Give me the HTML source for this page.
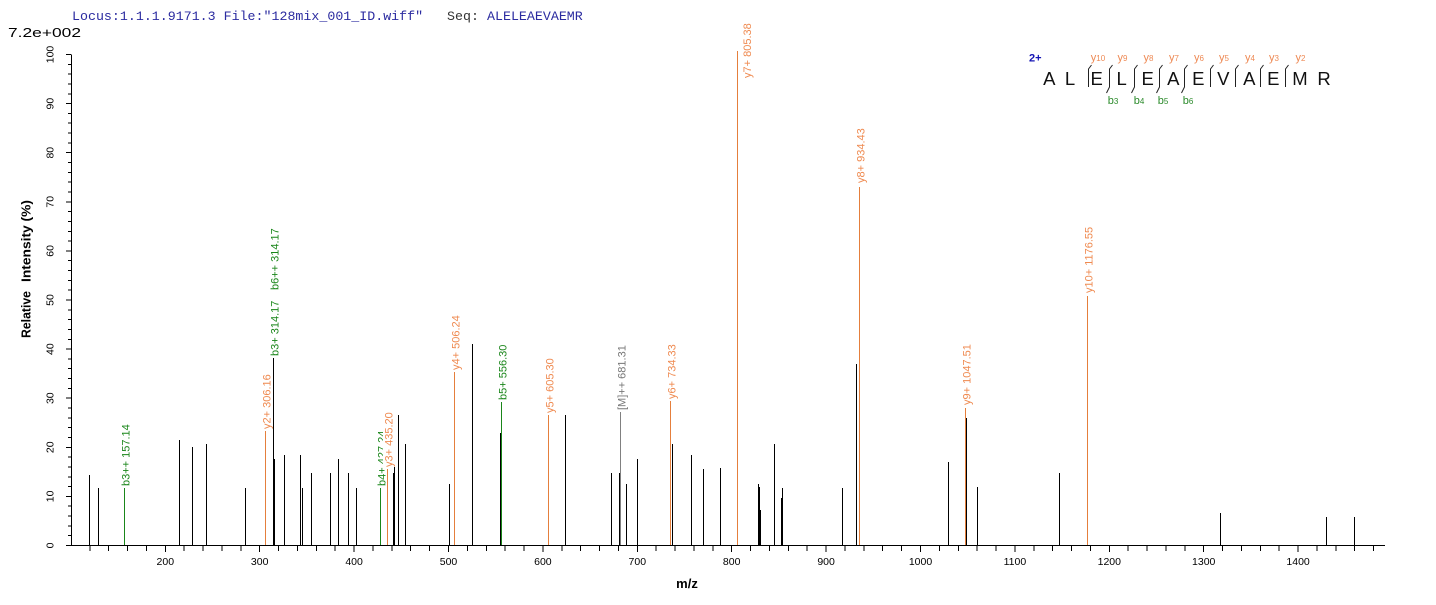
<!DOCTYPE html>
<html><head><meta charset="utf-8"><style>
html,body{margin:0;padding:0;background:#fff;}
svg{display:block;}
text{font-family:"Liberation Sans",Arial,sans-serif;}
</style></head><body>
<svg width="1436" height="605" viewBox="0 0 1436 605" xmlns="http://www.w3.org/2000/svg">
<rect width="1436" height="605" fill="#fff"/>
<!-- header -->
<g font-size="13.3">
<text x="72" y="20" fill="#2b2ba0" style="font-family:'Liberation Mono',monospace">Locus:1.1.1.9171.3 File:"128mix_001_ID.wiff"</text>
<text x="447" y="20" fill="#333" style="font-family:'Liberation Mono',monospace">Seq:</text>
<text x="487" y="20" fill="#2b2ba0" style="font-family:'Liberation Mono',monospace">ALELEAEVAEMR</text>
</g>
<text x="8" y="37" font-size="12.5" fill="#000" textLength="73" lengthAdjust="spacingAndGlyphs">7.2e+002</text>

<!-- axes -->
<g stroke="#000" stroke-width="1" shape-rendering="crispEdges" fill="none">
<path d="M71.5 54.5 V545.5 M71 545.5 H1385"/>
<path d="M71 545.5h-5 M71 496.4h-5 M71 447.3h-5 M71 398.2h-5 M71 349.1h-5 M71 300h-5 M71 250.9h-5 M71 201.8h-5 M71 152.7h-5 M71 103.6h-5 M71 54.5h-5"/>
<path d="M71 535.7h-3 M71 525.9h-3 M71 516h-3 M71 506.2h-3 M71 486.6h-3 M71 476.8h-3 M71 466.9h-3 M71 457.1h-3 M71 437.5h-3 M71 427.7h-3 M71 417.8h-3 M71 408h-3 M71 388.4h-3 M71 378.6h-3 M71 368.7h-3 M71 358.9h-3 M71 339.3h-3 M71 329.5h-3 M71 319.6h-3 M71 309.8h-3 M71 290.2h-3 M71 280.4h-3 M71 270.5h-3 M71 260.7h-3 M71 241.1h-3 M71 231.3h-3 M71 221.4h-3 M71 211.6h-3 M71 192h-3 M71 182.2h-3 M71 172.3h-3 M71 162.5h-3 M71 142.9h-3 M71 133.1h-3 M71 123.2h-3 M71 113.4h-3 M71 93.8h-3 M71 84h-3 M71 74.1h-3 M71 64.3h-3"/>
<path d="M89.8 546v5 M108.7 546v5 M127.5 546v5 M146.4 546v5 M165.3 546v6 M184.2 546v5 M203.1 546v5 M221.9 546v5 M240.8 546v5 M259.7 546v6 M278.6 546v5 M297.5 546v5 M316.3 546v5 M335.2 546v5 M354.1 546v6 M373 546v5 M391.9 546v5 M410.7 546v5 M429.6 546v5 M448.5 546v6 M467.4 546v5 M486.3 546v5 M505.1 546v5 M524 546v5 M542.9 546v6 M561.8 546v5 M580.7 546v5 M599.5 546v5 M618.4 546v5 M637.3 546v6 M656.2 546v5 M675.1 546v5 M693.9 546v5 M712.8 546v5 M731.7 546v6 M750.6 546v5 M769.5 546v5 M788.3 546v5 M807.2 546v5 M826.1 546v6 M845 546v5 M863.9 546v5 M882.7 546v5 M901.6 546v5 M920.5 546v6 M939.4 546v5 M958.3 546v5 M977.1 546v5 M996 546v5 M1014.9 546v6 M1033.8 546v5 M1052.7 546v5 M1071.5 546v5 M1090.4 546v5 M1109.3 546v6 M1128.2 546v5 M1147.1 546v5 M1165.9 546v5 M1184.8 546v5 M1203.7 546v6 M1222.6 546v5 M1241.5 546v5 M1260.3 546v5 M1279.2 546v5 M1298.1 546v6 M1317 546v5 M1335.9 546v5 M1354.7 546v5 M1373.6 546v5"/>
</g>

<!-- y tick labels -->
<g font-size="10.5" fill="#000" text-anchor="middle">
<text transform="translate(53.5,545.5) rotate(-90)">0</text>
<text transform="translate(53.5,496.4) rotate(-90)">10</text>
<text transform="translate(53.5,447.3) rotate(-90)">20</text>
<text transform="translate(53.5,398.2) rotate(-90)">30</text>
<text transform="translate(53.5,349.1) rotate(-90)">40</text>
<text transform="translate(53.5,300) rotate(-90)">50</text>
<text transform="translate(53.5,250.9) rotate(-90)">60</text>
<text transform="translate(53.5,201.8) rotate(-90)">70</text>
<text transform="translate(53.5,152.7) rotate(-90)">80</text>
<text transform="translate(53.5,103.6) rotate(-90)">90</text>
<text transform="translate(53.5,54.5) rotate(-90)">100</text>
</g>
<!-- x tick labels -->
<g font-size="10.5" fill="#000" text-anchor="middle">
<text x="165.3" y="565">200</text>
<text x="259.7" y="565">300</text>
<text x="354.1" y="565">400</text>
<text x="448.5" y="565">500</text>
<text x="542.9" y="565">600</text>
<text x="637.3" y="565">700</text>
<text x="731.7" y="565">800</text>
<text x="826.1" y="565">900</text>
<text x="920.5" y="565">1000</text>
<text x="1014.9" y="565">1100</text>
<text x="1109.3" y="565">1200</text>
<text x="1203.7" y="565">1300</text>
<text x="1298.1" y="565">1400</text>
</g>
<!-- axis titles -->
<g font-size="13" font-weight="bold" fill="#000">
<text transform="translate(30.5,338) rotate(-90)" textLength="47" lengthAdjust="spacingAndGlyphs">Relative</text>
<text transform="translate(30.5,282) rotate(-90)" textLength="82" lengthAdjust="spacingAndGlyphs">Intensity (%)</text>
<text x="687" y="588" text-anchor="middle">m/z</text>
</g>

<!-- peaks -->
<g stroke-width="1" shape-rendering="crispEdges" fill="none">
<path stroke="#000" d="M89.5 545V475 M98.5 545V488 M179.5 545V440 M192.5 545V447 M206.5 545V444 M245.5 545V488 M273.5 545V358 M274.5 545V459 M284.5 545V455 M300.5 545V455 M302.5 545V488 M311.5 545V473 M330.5 545V473 M338.5 545V459 M348.5 545V473 M356.5 545V488 M393.5 545V473 M394.5 545V467 M398.5 545V415 M405.5 545V444 M449.5 545V484 M472.5 545V344 M500.5 545V433 M565.5 545V415 M611.5 545V473 M619.5 545V473 M626.5 545V484 M637.5 545V459 M672.5 545V444 M691.5 545V455 M703.5 545V469 M720.5 545V468 M758.5 545V484 M759.5 545V487 M760.5 545V510 M774.5 545V444 M781.5 545V498 M782.5 545V488 M842.5 545V488 M856.5 545V364 M948.5 545V462 M966.5 545V418 M977.5 545V487 M1059.5 545V473 M1220.5 545V513 M1326.5 545V517 M1354.5 545V517"/>
<path stroke="#1a861a" d="M124.5 545V488 M380.5 545V488 M501.5 545V402"/>
<path stroke="#e57f3c" d="M265.5 545V431 M387.5 545V469 M454.5 545V372 M548.5 545V415 M670.5 545V401 M737.5 545V51 M859.5 545V187 M965.5 545V408 M1087.5 545V296"/>
<path stroke="#808080" d="M620.5 545V412"/>
</g>

<!-- peak labels -->
<g font-size="11">
<text transform="translate(129.5,486) rotate(-90)" fill="#1a861a">b3++ 157.14</text>
<text transform="translate(270.5,429) rotate(-90)" fill="#ef8a50">y2+ 306.16</text>
<text transform="translate(278.5,356) rotate(-90)" fill="#1a861a">b3+ 314.17</text>
<text transform="translate(278.5,290) rotate(-90)" fill="#1a861a">b6++ 314.17</text>
<text transform="translate(385.5,486) rotate(-90)" fill="#1a861a">b4+ 427.24</text>
<rect x="383" y="411" width="10" height="57" fill="#fff"/>
<text transform="translate(392.5,467) rotate(-90)" fill="#ef8a50">y3+ 435.20</text>
<text transform="translate(459.5,370) rotate(-90)" fill="#ef8a50">y4+ 506.24</text>
<text transform="translate(506.5,400) rotate(-90)" fill="#1a861a">b5+ 556.30</text>
<text transform="translate(553.5,413) rotate(-90)" fill="#ef8a50">y5+ 605.30</text>
<text transform="translate(625.5,410) rotate(-90)" fill="#777">[M]++ 681.31</text>
<text transform="translate(675.5,399) rotate(-90)" fill="#ef8a50">y6+ 734.33</text>
<text transform="translate(751,78) rotate(-90)" fill="#ef8a50">y7+ 805.38</text>
<text transform="translate(864.5,183) rotate(-90)" fill="#ef8a50">y8+ 934.43</text>
<text transform="translate(970.5,405) rotate(-90)" fill="#ef8a50">y9+ 1047.51</text>
<text transform="translate(1092.5,293) rotate(-90)" fill="#ef8a50">y10+ 1176.55</text>
</g>

<!-- sequence annotation -->
<text x="1029" y="61.5" font-size="11" font-weight="bold" fill="#1414b4">2+</text>
<g font-size="18.5" fill="#111" text-anchor="middle">
<text x="1049.3" y="85">A</text>
<text x="1070" y="85">L</text>
<text x="1096.7" y="85">E</text>
<text x="1121.7" y="85">L</text>
<text x="1147.7" y="85">E</text>
<text x="1173.3" y="85">A</text>
<text x="1198.3" y="85">E</text>
<text x="1223.3" y="85">V</text>
<text x="1249.3" y="85">A</text>
<text x="1273.3" y="85">E</text>
<text x="1300" y="85">M</text>
<text x="1324" y="85">R</text>
</g>
<g stroke="#222" stroke-width="1" fill="none">
<path d="M1091.5 65L1088.5 69V87 M1112.5 65L1109.5 69V87L1106.5 93 M1137.5 65L1134.5 69V87L1131.5 93 M1162.5 65L1159.5 69V87L1156.5 93 M1187.5 65L1184.5 69V87L1181.5 93 M1213.5 65L1210.5 69V87 M1238.5 65L1235.5 69V87 M1263.5 65L1260.5 69V87 M1288.5 65L1285.5 69V87"/>
</g>
<g font-size="11" fill="#ee8a55" text-anchor="middle">
<text x="1098" y="61">y<tspan font-size="8">10</tspan></text>
<text x="1122.5" y="61">y<tspan font-size="8">9</tspan></text>
<text x="1148.5" y="61">y<tspan font-size="8">8</tspan></text>
<text x="1174" y="61">y<tspan font-size="8">7</tspan></text>
<text x="1199" y="61">y<tspan font-size="8">6</tspan></text>
<text x="1224" y="61">y<tspan font-size="8">5</tspan></text>
<text x="1250" y="61">y<tspan font-size="8">4</tspan></text>
<text x="1274" y="61">y<tspan font-size="8">3</tspan></text>
<text x="1300.5" y="61">y<tspan font-size="8">2</tspan></text>
</g>
<g font-size="11" fill="#2a8a2a" text-anchor="middle">
<text x="1113" y="104">b<tspan font-size="8">3</tspan></text>
<text x="1139" y="104">b<tspan font-size="8">4</tspan></text>
<text x="1163" y="104">b<tspan font-size="8">5</tspan></text>
<text x="1188" y="104">b<tspan font-size="8">6</tspan></text>
</g>
</svg>
</body></html>
